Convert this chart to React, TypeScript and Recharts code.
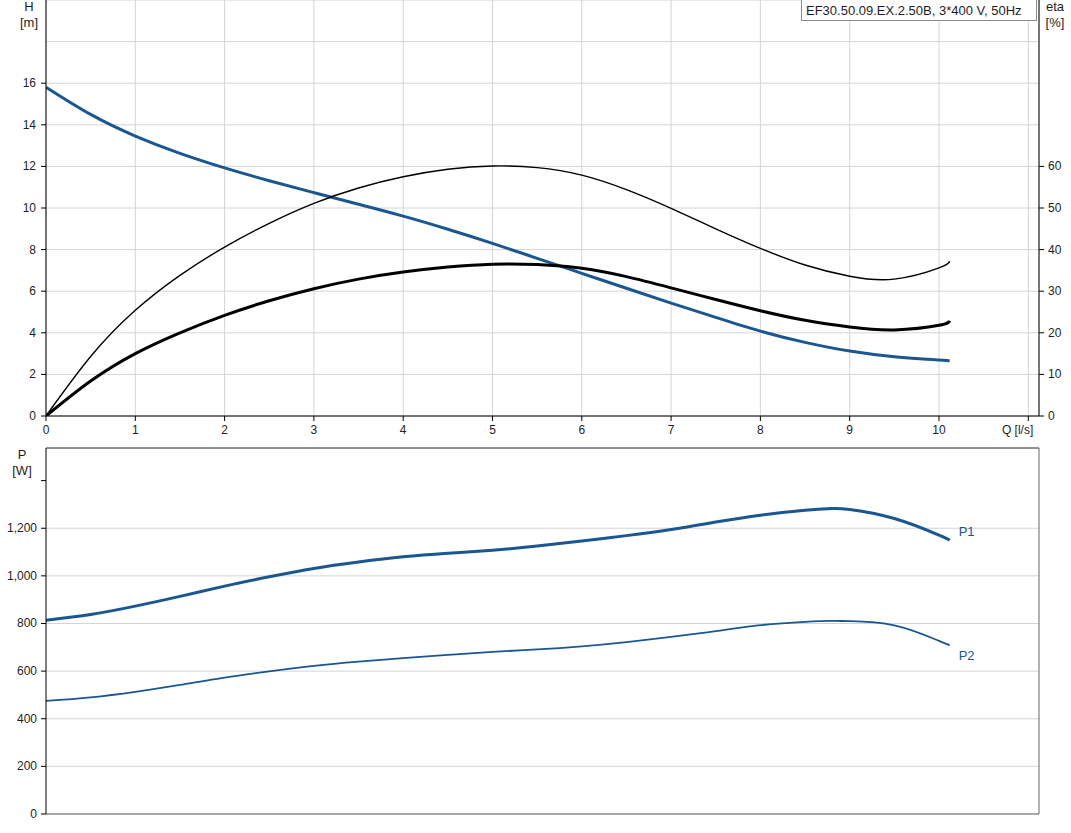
import React from 'react';
import { LineChart, Line, XAxis, YAxis, CartesianGrid, ReferenceLine } from 'recharts';

// ---- data ----
const qHead = [0, 0.5, 1, 1.5, 2, 2.5, 3, 3.5, 4, 4.5, 5, 5.5, 6, 6.5, 7, 7.5, 8, 8.5, 9, 9.5, 10, 10.12];
const head = [15.81, 14.5, 13.46, 12.63, 11.93, 11.31, 10.74, 10.18, 9.61, 8.98, 8.3, 7.58, 6.86, 6.14, 5.43, 4.74, 4.08, 3.54, 3.12, 2.85, 2.69, 2.65];
const etaPump = [0, 14.3, 25.4, 33.8, 40.6, 46.3, 51.1, 54.8, 57.5, 59.3, 60.1, 59.7, 57.9, 54.4, 49.9, 45.0, 40.3, 36.3, 33.6, 32.9, 35.6, 37.2];
const etaTotal = [0, 8.4, 15.0, 20.0, 24.2, 27.7, 30.6, 32.9, 34.6, 35.8, 36.5, 36.4, 35.5, 33.5, 30.8, 28.0, 25.3, 23.0, 21.4, 20.7, 21.8, 22.9];

const qPower = [0, 0.5, 1, 1.5, 2, 2.5, 3, 3.5, 4, 4.5, 5, 5.5, 6, 6.5, 7, 7.5, 8, 8.5, 8.8, 9, 9.5, 10, 10.12];
const p1 = [814, 838, 873, 914, 957, 996, 1031, 1058, 1080, 1095, 1108, 1125, 1146, 1169, 1195, 1226, 1255, 1276, 1283, 1279, 1241, 1171, 1150];
const p2 = [475, 490, 513, 542, 573, 599, 622, 640, 655, 668, 681, 691, 704, 722, 744, 768, 793, 807, 811, 810, 792, 727, 709];

const qTicks = [0, 1, 2, 3, 4, 5, 6, 7, 8, 9, 10, 11];
const hTicks = [0, 2, 4, 6, 8, 10, 12, 14, 16, 18, 20];
const etaTicks = [0, 10, 20, 30, 40, 50, 60];
const pTicks = [0, 200, 400, 600, 800, 1000, 1200, 1400];
const pGrid = [0, 200, 400, 600, 800, 1000, 1200];
const qMax = 11.12;
const hMax = 20;
const etaMax = 100;
const pMax = 1537;
const titleText = 'EF30.50.09.EX.2.50B, 3*400 V, 50Hz';

const topData = qHead.map((q, i) => ({ q, h: head[i], etaP: etaPump[i], etaT: etaTotal[i] }));
const powerData = qPower.map((q, i) => ({ q, p1: p1[i], p2: p2[i] }));

// ---- style ----
const BLUE = '#1a5690';
const GRID = '#d4d4d4';
const TXT = '#1e1e1e';
const FONT = '"Liberation Sans", Arial, sans-serif';

const XTickTop = (props: any) => {
  const { x, payload } = props;
  const v = payload.value;
  return (
    <g>
      <line x1={x} x2={x} y1={416} y2={421} stroke="#000" />
      {v === 11 ? (
        <text x={x + 5} y={430} textAnchor="end" dominantBaseline="central" fontSize={12} fill={TXT} fontFamily={FONT}>Q [l/s]</text>
      ) : (
        <text x={x} y={430} textAnchor="middle" dominantBaseline="central" fontSize={12} fill={TXT} fontFamily={FONT}>{v}</text>
      )}
    </g>
  );
};

const HTick = (props: any) => {
  const { y, payload } = props;
  if (payload.value > 16) return <g />;
  return (
    <g>
      <line x1={41} x2={46} y1={y} y2={y} stroke="#000" />
      <text x={36} y={y} textAnchor="end" dominantBaseline="central" fontSize={12} fill={TXT} fontFamily={FONT}>{payload.value}</text>
    </g>
  );
};

const EtaTick = (props: any) => {
  const { y, payload } = props;
  return (
    <g>
      <line x1={1039} x2={1044} y1={y} y2={y} stroke="#000" />
      <text x={1048} y={y} textAnchor="start" dominantBaseline="central" fontSize={12} fill={TXT} fontFamily={FONT}>{payload.value}</text>
    </g>
  );
};

const PTick = (props: any) => {
  const { y, payload } = props;
  const v = payload.value;
  return (
    <g>
      <line x1={41} x2={46} y1={y} y2={y} stroke="#000" />
      {v <= 1200 && (
        <text x={37} y={y} textAnchor="end" dominantBaseline="central" fontSize={12} fill={TXT} fontFamily={FONT}>{v.toLocaleString('en-US')}</text>
      )}
    </g>
  );
};

const endLabel = (name: string, dy: number) => (props: any) => {
  const { x, y, index } = props;
  if (index !== powerData.length - 1) return <g key={`l${index}`} />;
  return (
    <text key={`l${index}`} x={x + 9} y={y + dy} fill={BLUE} fontSize={13} fontFamily={FONT} dominantBaseline="central">{name}</text>
  );
};

const labelStyle: React.CSSProperties = {
  position: 'absolute',
  fontFamily: FONT,
  fontSize: 13,
  color: TXT,
  lineHeight: '16px',
  textAlign: 'center',
};

export default function App() {
  return (
    <div style={{ position: 'absolute', left: 0, top: 0, width: 1071, height: 833, background: '#fff', fontFamily: FONT }}>
      <div style={{ position: 'absolute', left: 0, top: 0 }}>
        <LineChart width={1071} height={448} data={topData} margin={{ top: 0, right: 0, bottom: 0, left: 0 }}>
          <CartesianGrid yAxisId="h" stroke={GRID} />
          <XAxis dataKey="q" type="number" domain={[0, qMax]} ticks={qTicks} allowDataOverflow height={32}
            axisLine={{ stroke: '#000' }} tickLine={false} tick={<XTickTop />} interval={0} />
          <YAxis yAxisId="h" domain={[0, hMax]} ticks={hTicks} width={46} axisLine={{ stroke: '#000' }}
            tickLine={false} tick={<HTick />} interval={0} allowDataOverflow />
          <YAxis yAxisId="eta" orientation="right" domain={[0, etaMax]} ticks={etaTicks} width={32}
            axisLine={{ stroke: '#000' }} tickLine={false} tick={<EtaTick />} interval={0} allowDataOverflow />
          <Line yAxisId="h" dataKey="h" type="natural" stroke={BLUE} strokeWidth={3} dot={false} isAnimationActive={false} />
          <Line yAxisId="eta" dataKey="etaP" type="natural" stroke="#000" strokeWidth={1.4} dot={false} isAnimationActive={false} />
          <Line yAxisId="eta" dataKey="etaT" type="natural" stroke="#000" strokeWidth={3} dot={false} isAnimationActive={false} />
        </LineChart>
      </div>
      <div style={{ position: 'absolute', left: 0, top: 447 }}>
        <LineChart width={1071} height={386} data={powerData} margin={{ top: 1, right: 32, bottom: 0, left: 0 }}>
          <CartesianGrid stroke={GRID} horizontalValues={pGrid} verticalValues={qTicks} />
          <XAxis dataKey="q" type="number" domain={[0, qMax]} ticks={qTicks} allowDataOverflow height={19}
            axisLine={{ stroke: '#666' }} tickLine={false} tick={false} />
          <YAxis domain={[0, pMax]} ticks={pTicks} width={46} axisLine={{ stroke: '#000' }}
            tickLine={false} tick={<PTick />} interval={0} allowDataOverflow />
          <ReferenceLine y={pMax} stroke="#222" />
          <ReferenceLine x={qMax} stroke="#666" />
          <Line dataKey="p1" type="natural" stroke={BLUE} strokeWidth={3} dot={false} isAnimationActive={false}
            label={endLabel('P1', -9)} />
          <Line dataKey="p2" type="natural" stroke={BLUE} strokeWidth={1.8} dot={false} isAnimationActive={false}
            label={endLabel('P2', 10)} />
        </LineChart>
      </div>
      <div style={{ ...labelStyle, left: 14, top: -1, width: 30 }}>H<br />[m]</div>
      <div style={{ ...labelStyle, left: 1040, top: -1, width: 30 }}>eta<br />[%]</div>
      <div style={{ ...labelStyle, left: 7, top: 447, width: 30 }}>P<br />[W]</div>
      <div style={{
        position: 'absolute', left: 801, top: 0, width: 230, height: 20, border: '1px solid #8a8a8a', borderTop: 'none',
        background: '#fff', fontFamily: FONT, fontSize: 13, color: TXT, lineHeight: '21px', paddingLeft: 4, whiteSpace: 'nowrap',
      }}>{titleText}</div>
    </div>
  );
}
